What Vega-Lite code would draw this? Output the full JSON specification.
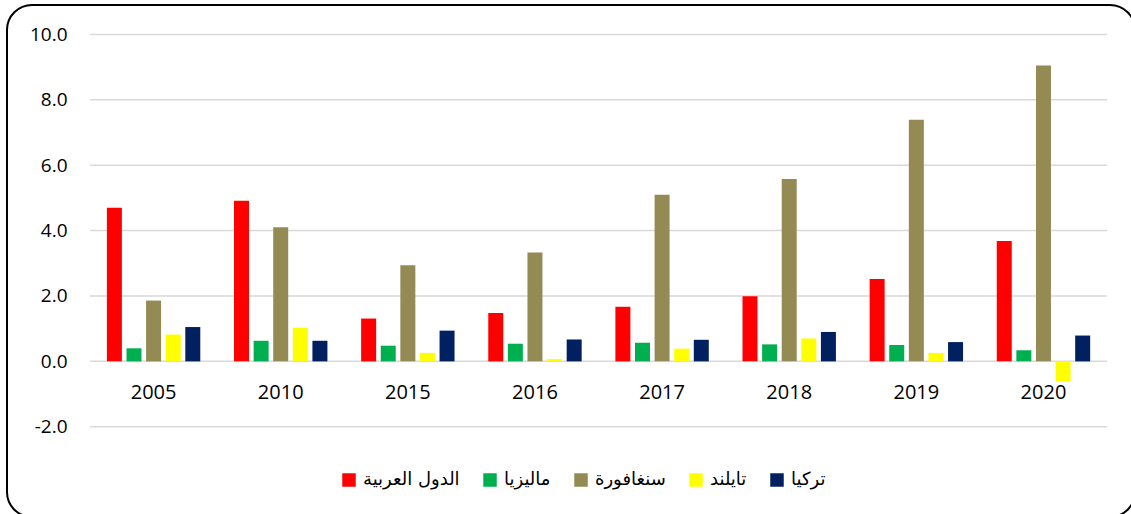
{
  "$schema": "https://vega.github.io/schema/vega-lite/v6.json",
  "width": 1128,
  "height": 512,
  "autosize": {"type": "none"},
  "padding": {"left": 7, "top": 5, "right": 0, "bottom": 0},
  "background": "white",
  "config": {
    "view": {"stroke": "#000000", "strokeWidth": 2, "cornerRadius": 25, "fill": "white"}
  },
  "datasets": {
    "grid": [{"v": -2}, {"v": 0}, {"v": 2}, {"v": 4}, {"v": 6}, {"v": 8}, {"v": 10}],
    "bars": [
      {"year": "2005", "series": "الدول العربية", "value": 4.70},
      {"year": "2005", "series": "ماليزيا", "value": 0.40},
      {"year": "2005", "series": "سنغافورة", "value": 1.86},
      {"year": "2005", "series": "تايلند", "value": 0.82},
      {"year": "2005", "series": "تركيا", "value": 1.05},
      {"year": "2010", "series": "الدول العربية", "value": 4.91},
      {"year": "2010", "series": "ماليزيا", "value": 0.63},
      {"year": "2010", "series": "سنغافورة", "value": 4.10},
      {"year": "2010", "series": "تايلند", "value": 1.03},
      {"year": "2010", "series": "تركيا", "value": 0.63},
      {"year": "2015", "series": "الدول العربية", "value": 1.31},
      {"year": "2015", "series": "ماليزيا", "value": 0.48},
      {"year": "2015", "series": "سنغافورة", "value": 2.94},
      {"year": "2015", "series": "تايلند", "value": 0.26},
      {"year": "2015", "series": "تركيا", "value": 0.94},
      {"year": "2016", "series": "الدول العربية", "value": 1.48},
      {"year": "2016", "series": "ماليزيا", "value": 0.54},
      {"year": "2016", "series": "سنغافورة", "value": 3.33},
      {"year": "2016", "series": "تايلند", "value": 0.07},
      {"year": "2016", "series": "تركيا", "value": 0.67},
      {"year": "2017", "series": "الدول العربية", "value": 1.67},
      {"year": "2017", "series": "ماليزيا", "value": 0.57},
      {"year": "2017", "series": "سنغافورة", "value": 5.10},
      {"year": "2017", "series": "تايلند", "value": 0.39},
      {"year": "2017", "series": "تركيا", "value": 0.66},
      {"year": "2018", "series": "الدول العربية", "value": 1.99},
      {"year": "2018", "series": "ماليزيا", "value": 0.52},
      {"year": "2018", "series": "سنغافورة", "value": 5.58},
      {"year": "2018", "series": "تايلند", "value": 0.70},
      {"year": "2018", "series": "تركيا", "value": 0.90},
      {"year": "2019", "series": "الدول العربية", "value": 2.52},
      {"year": "2019", "series": "ماليزيا", "value": 0.50},
      {"year": "2019", "series": "سنغافورة", "value": 7.39},
      {"year": "2019", "series": "تايلند", "value": 0.26},
      {"year": "2019", "series": "تركيا", "value": 0.59},
      {"year": "2020", "series": "الدول العربية", "value": 3.68},
      {"year": "2020", "series": "ماليزيا", "value": 0.34},
      {"year": "2020", "series": "سنغافورة", "value": 9.05},
      {"year": "2020", "series": "تايلند", "value": -0.61},
      {"year": "2020", "series": "تركيا", "value": 0.79}
    ]
  },
  "layer": [
    {
      "data": {"name": "grid"},
      "mark": {"type": "rule", "color": "#d9d9d9", "strokeWidth": 1.5},
      "encoding": {
        "y": {
          "field": "v", "type": "quantitative",
          "scale": {"domain": [-4.76, 10.9], "nice": false, "zero": false},
          "axis": {
            "orient": "left", "offset": -60, "title": null, "grid": false, "domain": false,
            "ticks": false, "tickSize": 0, "labelPadding": 0, "values": [-2, 0, 2, 4, 6, 8, 10],
            "format": ".1f", "labelExpr": "replace(datum.label, '−', '-')",
            "labelFont": "Open Sans", "labelFontSize": 19, "labelColor": "#000000",
            "labelAlign": "right", "labelBaseline": "middle"
          }
        },
        "x": {"datum": "2005", "type": "nominal", "bandPosition": 0,
          "scale": {"domain": ["2005", "2010", "2015", "2016", "2017", "2018", "2019", "2020"],
            "paddingInner": 0, "paddingOuter": 0.4366, "align": 0.748, "round": false},
          "axis": {
            "orient": "bottom", "offset": -155.5, "title": null, "domain": false, "ticks": false,
            "tickSize": 0, "grid": false, "labelPadding": 31, "labelBaseline": "middle",
            "labelAngle": 0, "labelFont": "Open Sans", "labelFontSize": 20, "labelColor": "#000000"
          }
        },
        "x2": {"datum": "2020", "bandPosition": 1}
      }
    },
    {
      "data": {"name": "bars"},
      "mark": {"type": "bar"},
      "encoding": {
        "x": {"field": "year", "type": "nominal",
          "scale": {"domain": ["2005", "2010", "2015", "2016", "2017", "2018", "2019", "2020"],
            "paddingInner": 0, "paddingOuter": 0.4366, "align": 0.748, "round": false},
          "axis": {
            "orient": "bottom", "offset": -155.5, "title": null, "domain": false, "ticks": false,
            "tickSize": 0, "grid": false, "labelPadding": 31, "labelBaseline": "middle",
            "labelAngle": 0, "labelFont": "Open Sans", "labelFontSize": 20, "labelColor": "#000000"
          }
        },
        "xOffset": {"field": "series", "type": "nominal",
          "scale": {"domain": ["الدول العربية", "ماليزيا", "سنغافورة", "تايلند", "تركيا"],
            "paddingInner": 0.235, "paddingOuter": 0.86}},
        "y": {"field": "value", "type": "quantitative"},
        "color": {
          "field": "series", "type": "nominal",
          "scale": {"domain": ["الدول العربية", "ماليزيا", "سنغافورة", "تايلند", "تركيا"],
            "range": ["#FF0000", "#00B050", "#948A54", "#FFFF00", "#002060"]},
          "legend": {
            "orient": "none", "legendX": 333, "legendY": 466, "direction": "horizontal",
            "title": null, "symbolType": "square", "symbolSize": 182, "symbolStrokeWidth": 0,
            "symbolOpacity": 1, "labelFont": "DejaVu Sans", "labelFontSize": 18,
            "labelColor": "#000000", "labelOffset": 5, "columnPadding": 21, "labelBaseline": "middle"
          }
        }
      }
    }
  ]
}
